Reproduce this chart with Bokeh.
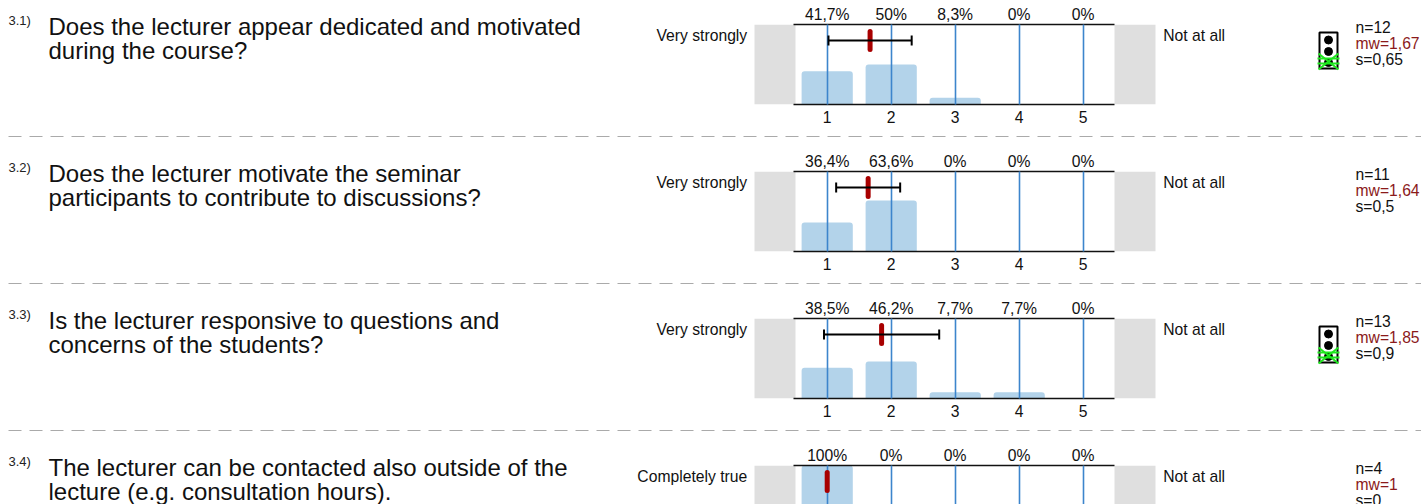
from bokeh.plotting import figure
from bokeh.embed import file_html
from bokeh.resources import INLINE
from bokeh.layouts import column, row
from bokeh.models import (Range1d, LinearAxis, FixedTicker, Label, Whisker,
                          TeeHead, ColumnDataSource, Grid)

# ---- data ----
scale = [1, 2, 3, 4, 5]
numbers = ["3.1)", "3.2)", "3.3)", "3.4)"]
questions = [
    ["Does the lecturer appear dedicated and motivated", "during the course?"],
    ["Does the lecturer motivate the seminar", "participants to contribute to discussions?"],
    ["Is the lecturer responsive to questions and", "concerns of the students?"],
    ["The lecturer can be contacted also outside of the", "lecture (e.g. consultation hours)."],
]
left_poles = ["Very strongly", "Very strongly", "Very strongly", "Completely true"]
right_poles = ["Not at all", "Not at all", "Not at all", "Not at all"]
pct_row1 = [41.7, 50, 8.3, 0, 0]
pct_row2 = [36.4, 63.6, 0, 0, 0]
pct_row3 = [38.5, 46.2, 7.7, 7.7, 0]
pct_row4 = [100, 0, 0, 0, 0]
percentages = [pct_row1, pct_row2, pct_row3, pct_row4]
n_values = [12, 11, 13, 4]
means = [1.67, 1.64, 1.85, 1]
stds = [0.65, 0.5, 0.9, 0]
has_light = [True, False, True, False]

# ---- layout (page pixels) ----
W = 1421
SPLIT = 630
SPLIT2 = 1280
PX_PER_UNIT = 64.0
PX_PER_PCT = 0.8
FONT = "Liberation Sans"
FS = "15.7px"


def xp(px):
    return 1 + (px - 826.7) / PX_PER_UNIT


def fmt(v):
    return f"{v:g}".replace(".", ",")


def pct_text(v):
    return fmt(v) + "%"


def yp(dy):  # pixels below the top axis
    return 100.0 - dy / PX_PER_PCT


def add_label(p, x, dy, text, size=FS, color="#111111", align="left"):
    # the label's alphabetic baseline lands about 0.36 em low
    shift = 0.36 * float(size.replace("px", ""))
    p.add_layout(Label(x=xp(x), y=yp(dy - shift), text=text, text_font=FONT, text_font_size=size,
                       text_color=color, text_align=align, text_baseline="alphabetic"))


def side_figure(width, x0, x1, top_border, fig_h):
    ymax = yp(-top_border)
    p = figure(width=width, height=fig_h, output_backend="svg", toolbar_location=None,
               x_range=Range1d(xp(x0), xp(x1)), y_range=Range1d(ymax - fig_h / PX_PER_PCT, ymax),
               x_axis_location=None, y_axis_location=None,
               min_border_left=0, min_border_right=0, min_border_top=0, min_border_bottom=0)
    p.outline_line_color = None
    p.grid.visible = False
    return p


def make_left(i, top_border, fig_h):
    p = side_figure(SPLIT, 0, SPLIT, top_border, fig_h)
    add_label(p, 8, 1, numbers[i], size="13px", color="#222222")
    add_label(p, 48, 10.8, questions[i][0], size="24px")
    add_label(p, 48, 34.3, questions[i][1], size="24px")
    return p


def make_stats(i, top_border, fig_h):
    p = side_figure(W - SPLIT2, SPLIT2, W, top_border, fig_h)
    add_label(p, 1355, 8.5, f"n={n_values[i]}")
    add_label(p, 1355, 24.5, "mw=" + fmt(means[i]), color="#8b1a1a")
    add_label(p, 1355, 41, "s=" + fmt(stds[i]))
    if has_light[i]:
        p.quad(left=[xp(1319)], right=[xp(1337)], bottom=[yp(44)], top=[yp(8)],
               fill_color="white", line_color="black", line_width=2)
        p.scatter(x=[xp(1328)] * 3, y=[yp(15.5), yp(27), yp(38)], size=8, color="black")
        p.segment(x0=[xp(1318), xp(1318), xp(1317), xp(1317)], x1=[xp(1338), xp(1338), xp(1339), xp(1339)],
                  y0=[yp(29), yp(45), yp(34), yp(39)], y1=[yp(45), yp(29), yp(34), yp(39)],
                  line_color="#1ee61e", line_width=2)
    return p


def make_chart(i, top_border, frame_h, fig_h, bottom_axis):
    bottom_border = fig_h - top_border - frame_h
    ymax = 100.0
    ymin = ymax - frame_h / PX_PER_PCT
    p = figure(width=SPLIT2 - SPLIT, height=fig_h, output_backend="svg", toolbar_location=None,
               x_range=Range1d(xp(SPLIT), xp(SPLIT2)), y_range=Range1d(ymin, ymax),
               x_axis_location=None, y_axis_location=None,
               min_border_left=0, min_border_right=0,
               min_border_top=top_border, min_border_bottom=bottom_border)
    p.outline_line_color = None
    p.grid.visible = False

    # grey end blocks
    p.quad(left=[xp(754), xp(1114)], right=[xp(795), xp(1155)], bottom=[0, 0], top=[100, 100],
           fill_color="#dfdfdf", line_color=None)

    # bars
    p.vbar(x=scale, top=percentages[i], bottom=0, width=0.8, fill_color="#b3d3ea",
           line_color=None, border_radius=(3, 3, 0, 0))

    # grid lines above bars
    p.add_layout(Grid(dimension=0, ticker=FixedTicker(ticks=scale), grid_line_color="#3d85cc",
                      grid_line_width=1.6, level="guide"))

    # axes
    bounds = (xp(793), xp(1114))
    top_axis = LinearAxis(ticker=FixedTicker(ticks=scale), bounds=bounds,
                          major_label_overrides={s: pct_text(v) for s, v in zip(scale, percentages[i])},
                          major_label_standoff=2)
    axes = [(top_axis, "above")]
    if bottom_axis:
        axes.append((LinearAxis(ticker=FixedTicker(ticks=scale), bounds=bounds, major_label_standoff=6), "below"))
    for ax, side in axes:
        ax.axis_line_color = "#111111"
        ax.axis_line_width = 1.5
        ax.major_tick_line_color = None
        ax.minor_tick_line_color = None
        ax.major_tick_in = 0
        ax.major_tick_out = 0
        ax.major_label_text_font = FONT
        ax.major_label_text_font_size = FS
        ax.major_label_text_color = "#111111"
        p.add_layout(ax, side)

    # error bar and mean
    m, s = means[i], stds[i]
    if s > 0:
        src = ColumnDataSource(dict(base=[yp(16)], lower=[m - s], upper=[m + s]))
        p.add_layout(Whisker(source=src, base="base", lower="lower", upper="upper", dimension="width",
                             line_color="black", line_width=2, level="overlay",
                             lower_head=TeeHead(size=10, line_color="black", line_width=2),
                             upper_head=TeeHead(size=10, line_color="black", line_width=2)))
    p.segment(x0=[m], x1=[m], y0=[yp(7)], y1=[yp(25)], line_color="#a80000", line_width=5,
              line_cap="round", level="overlay")

    # texts
    add_label(p, 746.7, 16.5, left_poles[i], align="right")
    add_label(p, 1162.7, 16.5, right_poles[i])
    return p


def dash_row():
    d = figure(width=W, height=12, output_backend="svg", toolbar_location=None,
               x_range=Range1d(0, W), y_range=Range1d(0, 1), x_axis_location=None, y_axis_location=None,
               min_border_left=0, min_border_right=0, min_border_top=0, min_border_bottom=0)
    d.outline_line_color = None
    d.grid.visible = False
    d.segment(x0=[8], x1=[W], y0=[0.5], y1=[0.5], line_color="#aaaaaa", line_width=1, line_dash="13 8")
    return d


def band(i, top_border, frame_h, fig_h, bottom_axis=True):
    return row(column(make_left(i, top_border, fig_h)),
               column(make_chart(i, top_border, frame_h, fig_h, bottom_axis)),
               column(make_stats(i, top_border, fig_h)), spacing=0)


rows = [
    band(0, 24, 80, 130),
    dash_row(),
    band(1, 29, 80, 135),
    dash_row(),
    band(2, 29, 80, 135),
    dash_row(),
    band(3, 29, 39, 68, False),
]
layout = column(*rows, spacing=0)
open("out.html", "w").write(file_html(layout, INLINE))
